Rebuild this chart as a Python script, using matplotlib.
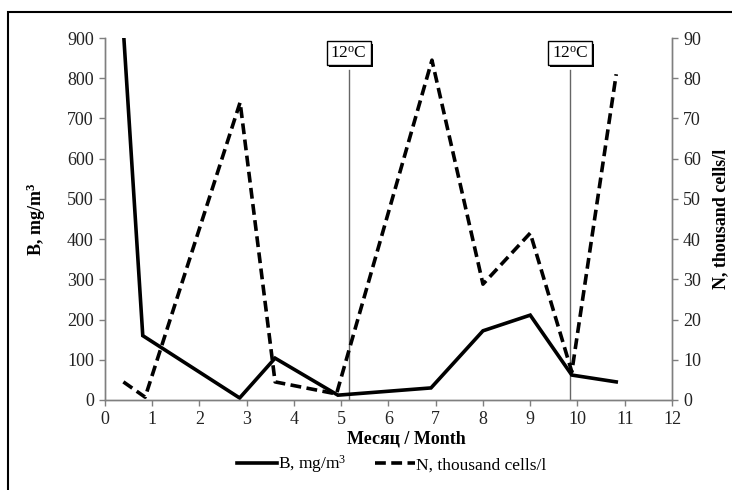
import matplotlib
matplotlib.use('Agg')
import matplotlib.pyplot as plt
import matplotlib.patheffects as pe
from matplotlib.patches import Rectangle
from matplotlib.lines import Line2D

plt.rcParams['font.family'] = ['Liberation Serif', 'DejaVu Serif']
plt.rcParams['mathtext.fontset'] = 'custom'
plt.rcParams['mathtext.rm'] = 'Liberation Serif'
plt.rcParams['mathtext.bf'] = 'Liberation Serif:bold'
plt.rcParams['mathtext.default'] = 'regular'

# Biomass (left axis) and cell count (right axis) by month
month_b = [0.4, 0.8, 2.85, 3.6, 4.93, 6.9, 8.0, 9.0, 9.88, 10.82]
biomass = [900, 160, 5, 104, 12, 30, 172, 211, 62, 45]

month_n = [0.39, 0.85, 2.86, 3.6, 4.9, 6.92, 8.0, 9.0, 9.88, 10.82]
cells = [4.5, 0.7, 74, 4.5, 1.5, 84.5, 28.8, 41.5, 7, 81]

# months where water temperature crosses 12 C
temp_marks = [5.16, 9.84]
temp_label = '12$^{o}$C'

gray = '#7f7f7f'
tick_color = '#222222'
dash = (0, (3.0, 1.5))

fig = plt.figure(figsize=(7.32, 4.90), dpi=100)
ax = fig.add_axes([0.1434, 0.1837, 0.918 - 0.1434, 0.9224 - 0.1837])
ax2 = ax.twinx()

ax.plot(month_b, biomass, color='black', lw=2.6, solid_joinstyle='miter')
ax2.plot(month_n, cells, color='black', lw=2.6, linestyle=dash)

ax.set_xlim(0, 12)
ax.set_ylim(0, 900)
ax2.set_ylim(0, 90)
ax.set_xticks(range(0, 13))
ax.set_yticks(range(0, 901, 100))
ax2.set_yticks(range(0, 91, 10))

for a in (ax, ax2):
    a.spines['top'].set_visible(False)
    for s in ('left', 'right', 'bottom'):
        a.spines[s].set_color(gray)
        a.spines[s].set_linewidth(1.0)
    a.tick_params(direction='out', length=4, width=1.0, color=gray,
                  labelsize=13, labelcolor=tick_color, pad=4)

for xm in temp_marks:
    ax.plot([xm, xm], [0, 820], color='#666666', lw=1.0, zorder=1)
    t = ax.text(xm, 862, temp_label, ha='center', va='center', fontsize=12.5,
                bbox=dict(boxstyle='square,pad=0.22', fc='white', ec='black', lw=1.0),
                zorder=5)
    # heavier bottom-right edge on the box
    t.get_bbox_patch().set_path_effects([
        pe.SimplePatchShadow(offset=(1.6, -1.6), shadow_rgbFace='black', alpha=1.0),
        pe.Normal()])

ax.set_xlabel('Месяц / Month', fontsize=13, fontweight='bold', labelpad=5)
ax.xaxis.set_label_coords(0.531, -0.085)
ax.set_ylabel('B, mg/m$^3$', fontsize=13, fontweight='bold', labelpad=14)
ax2.set_ylabel('N, thousand cells/l', fontsize=13, fontweight='bold', labelpad=8)

handles = [Line2D([], [], color='black', lw=2.6),
           Line2D([], [], color='black', lw=2.6, linestyle=dash)]
fig.legend(handles, ['B, mg/m$^3$', 'N, thousand cells/l'], loc='center',
           bbox_to_anchor=(0.535, 0.052), ncol=2, frameon=False, fontsize=12.5,
           handlelength=2.3, handletextpad=0.1, columnspacing=1.6)

# outer frame (left and top edges)
fig.add_artist(Rectangle((8 / 732, -0.1), 1.2, 1 - 12 / 490 + 0.1,
                         transform=fig.transFigure, fill=False, ec='black', lw=1.5))

fig.savefig('out.png', dpi=100)
